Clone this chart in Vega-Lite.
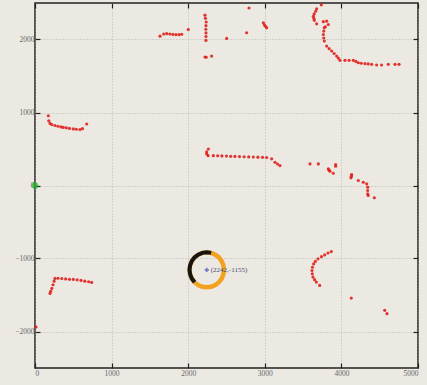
{
  "$schema": "https://vega.github.io/schema/vega-lite/v6.json",
  "width": 383,
  "height": 365,
  "autosize": {"type": "none"},
  "padding": {"left": 35, "top": 3, "right": 9, "bottom": 17},
  "background": "#ece9e3",
  "config": {
    "view": {"fill": "#ece9e3", "stroke": "#222", "strokeWidth": 1.5},
    "axis": {
      "labelFont": "Liberation Serif",
      "labelFontSize": 7.5,
      "labelColor": "#666",
      "tickColor": "#222",
      "tickSize": -5,
      "tickWidth": 1.2,
      "domain": false,
      "gridColor": "#aaa",
      "gridDash": [1, 2],
      "gridWidth": 0.8,
      "title": null,
      "format": "d"
    }
  },
  "datasets": {
    "red": [
      {"x": 174, "y": 955}, {"x": 180, "y": 887}, {"x": 196, "y": 850}, {"x": 218, "y": 835}, {"x": 260, "y": 822},
      {"x": 300, "y": 812}, {"x": 340, "y": 803}, {"x": 370, "y": 796}, {"x": 410, "y": 790}, {"x": 450, "y": 782},
      {"x": 500, "y": 775}, {"x": 540, "y": 770}, {"x": 587, "y": 766}, {"x": 620, "y": 778}, {"x": 675, "y": 842},
      {"x": 1632, "y": 2046}, {"x": 1680, "y": 2075}, {"x": 1720, "y": 2080}, {"x": 1760, "y": 2075}, {"x": 1800, "y": 2070},
      {"x": 1840, "y": 2067}, {"x": 1880, "y": 2066}, {"x": 1915, "y": 2072}, {"x": 2001, "y": 2137},
      {"x": 2219, "y": 2333}, {"x": 2225, "y": 2290}, {"x": 2235, "y": 2240}, {"x": 2232, "y": 2190}, {"x": 2230, "y": 2140},
      {"x": 2232, "y": 2090}, {"x": 2232, "y": 2040}, {"x": 2232, "y": 1988}, {"x": 2219, "y": 1760}, {"x": 2235, "y": 1757},
      {"x": 2306, "y": 1773},
      {"x": 2502, "y": 2015}, {"x": 2763, "y": 2092}, {"x": 2794, "y": 2432}, {"x": 2981, "y": 2228}, {"x": 2995, "y": 2200},
      {"x": 3010, "y": 2180}, {"x": 3024, "y": 2160},
      {"x": 3738, "y": 2475}, {"x": 3677, "y": 2420}, {"x": 3664, "y": 2387}, {"x": 3645, "y": 2350}, {"x": 3634, "y": 2319},
      {"x": 3640, "y": 2290}, {"x": 3647, "y": 2262}, {"x": 3677, "y": 2215}, {"x": 3764, "y": 2244}, {"x": 3808, "y": 2251},
      {"x": 3829, "y": 2206}, {"x": 3790, "y": 2175}, {"x": 3777, "y": 2160}, {"x": 3770, "y": 2115}, {"x": 3764, "y": 2069},
      {"x": 3770, "y": 2020}, {"x": 3777, "y": 1978}, {"x": 3808, "y": 1910}, {"x": 3840, "y": 1875}, {"x": 3873, "y": 1842},
      {"x": 3905, "y": 1808}, {"x": 3938, "y": 1773}, {"x": 3960, "y": 1745}, {"x": 3982, "y": 1715}, {"x": 4047, "y": 1715},
      {"x": 4100, "y": 1715}, {"x": 4155, "y": 1715}, {"x": 4190, "y": 1700}, {"x": 4221, "y": 1682}, {"x": 4260, "y": 1675},
      {"x": 4308, "y": 1669}, {"x": 4350, "y": 1665}, {"x": 4395, "y": 1660}, {"x": 4460, "y": 1651}, {"x": 4525, "y": 1651},
      {"x": 4612, "y": 1660}, {"x": 4700, "y": 1660}, {"x": 4752, "y": 1660},
      {"x": 2263, "y": 500}, {"x": 2241, "y": 460}, {"x": 2241, "y": 432}, {"x": 2260, "y": 409}, {"x": 2328, "y": 409},
      {"x": 2385, "y": 407}, {"x": 2440, "y": 405}, {"x": 2500, "y": 403}, {"x": 2555, "y": 400}, {"x": 2610, "y": 398},
      {"x": 2670, "y": 396}, {"x": 2730, "y": 394}, {"x": 2790, "y": 392}, {"x": 2850, "y": 390}, {"x": 2910, "y": 388},
      {"x": 2970, "y": 386}, {"x": 3024, "y": 383}, {"x": 3090, "y": 365}, {"x": 3133, "y": 318}, {"x": 3165, "y": 295},
      {"x": 3198, "y": 273},
      {"x": 3590, "y": 296}, {"x": 3699, "y": 296}, {"x": 3829, "y": 228}, {"x": 3840, "y": 210}, {"x": 3851, "y": 195},
      {"x": 3894, "y": 168}, {"x": 3925, "y": 286}, {"x": 3925, "y": 264}, {"x": 4134, "y": 150}, {"x": 4130, "y": 128},
      {"x": 4125, "y": 105}, {"x": 4221, "y": 68}, {"x": 4286, "y": 45}, {"x": 4330, "y": 23}, {"x": 4343, "y": -23},
      {"x": 4343, "y": -68}, {"x": 4343, "y": -114}, {"x": 4350, "y": -136}, {"x": 4430, "y": -168},
      {"x": 3868, "y": -905}, {"x": 3825, "y": -925}, {"x": 3782, "y": -951}, {"x": 3740, "y": -975}, {"x": 3695, "y": -1005},
      {"x": 3660, "y": -1040}, {"x": 3638, "y": -1074}, {"x": 3622, "y": -1120}, {"x": 3616, "y": -1164}, {"x": 3620, "y": -1210},
      {"x": 3629, "y": -1255}, {"x": 3650, "y": -1290}, {"x": 3673, "y": -1323}, {"x": 3716, "y": -1369},
      {"x": 4129, "y": -1542}, {"x": 4565, "y": -1710}, {"x": 4595, "y": -1756},
      {"x": 261, "y": -1273}, {"x": 300, "y": -1270}, {"x": 350, "y": -1275}, {"x": 400, "y": -1280}, {"x": 450, "y": -1285},
      {"x": 500, "y": -1287}, {"x": 550, "y": -1292}, {"x": 600, "y": -1300}, {"x": 650, "y": -1310}, {"x": 700, "y": -1318},
      {"x": 740, "y": -1328}, {"x": 250, "y": -1310}, {"x": 235, "y": -1360}, {"x": 220, "y": -1410}, {"x": 205, "y": -1450},
      {"x": 196, "y": -1478},
      {"x": 13, "y": -1937}
    ],
    "ring": [
      {"i": 0, "x": 2467, "y": -1155}, {"i": 1, "x": 2459, "y": -1093}, {"i": 2, "x": 2437, "y": -1035}, {"i": 3, "x": 2401, "y": -985},
      {"i": 4, "x": 2355, "y": -947}, {"i": 5, "x": 2300, "y": -923}, {"i": 6, "x": 2242, "y": -915}, {"i": 7, "x": 2184, "y": -923},
      {"i": 8, "x": 2130, "y": -947}, {"i": 9, "x": 2083, "y": -985}, {"i": 10, "x": 2047, "y": -1035}, {"i": 11, "x": 2025, "y": -1093},
      {"i": 12, "x": 2017, "y": -1155}, {"i": 13, "x": 2025, "y": -1217}, {"i": 14, "x": 2047, "y": -1275}, {"i": 15, "x": 2083, "y": -1325},
      {"i": 16, "x": 2130, "y": -1363}, {"i": 17, "x": 2184, "y": -1387}, {"i": 18, "x": 2242, "y": -1395}, {"i": 19, "x": 2300, "y": -1387},
      {"i": 20, "x": 2355, "y": -1363}, {"i": 21, "x": 2401, "y": -1325}, {"i": 22, "x": 2437, "y": -1275}, {"i": 23, "x": 2459, "y": -1217},
      {"i": 24, "x": 2467, "y": -1155}
    ],
    "arc": [
      {"i": 0, "x": 2300, "y": -923}, {"i": 1, "x": 2242, "y": -915}, {"i": 2, "x": 2184, "y": -923}, {"i": 3, "x": 2130, "y": -947},
      {"i": 4, "x": 2083, "y": -985}, {"i": 5, "x": 2047, "y": -1035}, {"i": 6, "x": 2025, "y": -1093}, {"i": 7, "x": 2017, "y": -1155},
      {"i": 8, "x": 2025, "y": -1217}, {"i": 9, "x": 2047, "y": -1275}, {"i": 10, "x": 2083, "y": -1325}
    ],
    "origin": [{"x": 0, "y": 0}],
    "center": [{"x": 2242, "y": -1155, "label": "(2242,-1155)"}]
  },
  "layer": [
    {
      "data": {"name": "red"},
      "mark": {"type": "point", "filled": true, "shape": "circle", "size": 10, "color": "#e0201c", "opacity": 0.9},
      "encoding": {
        "x": {"field": "x", "type": "quantitative", "scale": {"domain": [0, 5000], "nice": false},
              "axis": {"orient": "bottom", "values": [0, 1000, 2000, 3000, 4000, 5000], "grid": true, "labelPadding": 6}},
        "y": {"field": "y", "type": "quantitative", "scale": {"domain": [-2500, 2500], "nice": false},
              "axis": {"orient": "left", "values": [-2000, -1000, 0, 1000, 2000], "grid": true, "labelPadding": 6}}
      }
    },
    {
      "data": {"name": "origin"},
      "mark": {"type": "point", "filled": false, "shape": "circle", "size": 1, "opacity": 0},
      "encoding": {
        "x": {"field": "x", "type": "quantitative", "scale": {"domain": [0, 5000], "nice": false},
              "axis": {"orient": "top", "values": [0, 1000, 2000, 3000, 4000, 5000], "grid": false, "labels": false}},
        "y": {"field": "y", "type": "quantitative", "scale": {"domain": [-2500, 2500], "nice": false},
              "axis": {"orient": "right", "values": [-2000, -1000, 0, 1000, 2000], "grid": false, "labels": false}}
      }
    },
    {
      "data": {"name": "ring"},
      "mark": {"type": "line", "color": "#f2a21e", "strokeWidth": 4.5},
      "encoding": {
        "x": {"field": "x", "type": "quantitative", "axis": null},
        "y": {"field": "y", "type": "quantitative", "axis": null},
        "order": {"field": "i", "type": "quantitative"}
      }
    },
    {
      "data": {"name": "arc"},
      "mark": {"type": "line", "color": "#151515", "strokeWidth": 4},
      "encoding": {
        "x": {"field": "x", "type": "quantitative", "axis": null},
        "y": {"field": "y", "type": "quantitative", "axis": null},
        "order": {"field": "i", "type": "quantitative"}
      }
    },
    {
      "data": {"name": "origin"},
      "mark": {"type": "point", "filled": true, "shape": "circle", "size": 45, "color": "#22b522"},
      "encoding": {
        "x": {"field": "x", "type": "quantitative", "axis": null},
        "y": {"field": "y", "type": "quantitative", "axis": null}
      }
    },
    {
      "data": {"name": "center"},
      "mark": {"type": "point", "filled": true, "shape": "cross", "size": 18, "color": "#4a4ab8"},
      "encoding": {
        "x": {"field": "x", "type": "quantitative", "axis": null},
        "y": {"field": "y", "type": "quantitative", "axis": null}
      }
    },
    {
      "data": {"name": "center"},
      "mark": {"type": "text", "align": "left", "baseline": "middle", "dx": 4, "font": "Liberation Serif", "fontSize": 7, "color": "#4a4a70"},
      "encoding": {
        "x": {"field": "x", "type": "quantitative", "axis": null},
        "y": {"field": "y", "type": "quantitative", "axis": null},
        "text": {"field": "label"}
      }
    }
  ],
  "resolve": {"axis": {"x": "independent", "y": "independent"}}
}
